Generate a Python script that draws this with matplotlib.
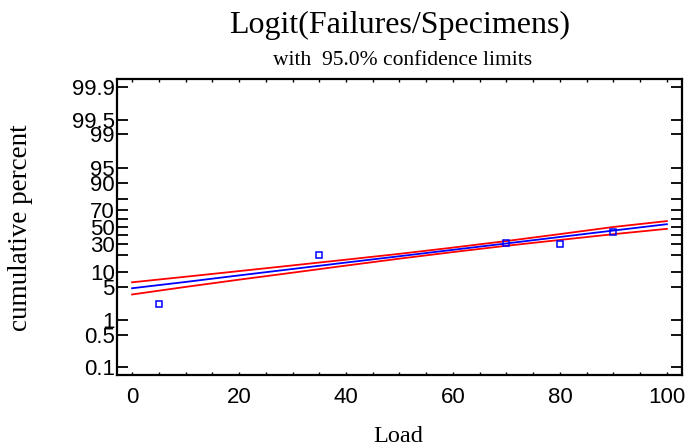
"""Logit probability plot of failures/specimens vs load"""

import matplotlib
matplotlib.use("Agg")
from matplotlib import pyplot as plt
from matplotlib.ticker import FixedLocator, FixedFormatter, MultipleLocator, NullLocator

# fitted line and 95% limits (cumulative percent)
load_grid = [0, 10, 20, 30, 40, 50, 60, 70, 80, 90, 100]
fit_pct = [4.7, 6.3, 8.5, 11.3, 14.9, 19.3, 24.7, 31.0, 38.2, 45.9, 53.7]
upper_pct = [6.2, 8.0, 10.3, 13.2, 16.8, 21.2, 26.8, 33.6, 41.6, 50.3, 57.5]
lower_pct = [3.5, 5.0, 7.0, 9.6, 13.1, 17.5, 22.7, 28.6, 34.8, 41.5, 48.0]

# observed points
obs_load = [5, 35, 70, 80, 90]
obs_pct = [2.2, 20.0, 31.5, 30.5, 44.0]

ytick_pct = [0.1, 0.5, 1, 5, 10, 20, 30, 40, 50, 60, 70, 80, 90, 95, 99, 99.5, 99.9]
ytick_labels = ["0.1", "0.5", "1", "5", "10", "", "30", "", "50", "", "70", "", "90", "95", "99", "99.5", "99.9"]

serif = "Liberation Serif"
sans = "Liberation Sans"

fig = plt.figure(figsize=(6.87, 4.48), dpi=100)
ax = fig.add_axes([0.170, 0.163, 0.823, 0.661])

frac = lambda vals: [v / 100.0 for v in vals]

ax.plot(load_grid, frac(upper_pct), color="#ff0000", linewidth=1.3, zorder=2)
ax.plot(load_grid, frac(lower_pct), color="#ff0000", linewidth=1.3, zorder=2)
ax.plot(load_grid, frac(fit_pct), color="#0000ff", linewidth=1.3, zorder=3)
ax.plot(obs_load, frac(obs_pct), linestyle="none", marker="s", markersize=5,
        markerfacecolor="none", markeredgecolor="#0000ff", markeredgewidth=1.1, zorder=4)

ax.set_yscale("logit")
ax.set_ylim(0.000684, 0.999336)
ax.set_xlim(-2.86, 102.86)

ax.yaxis.set_major_locator(FixedLocator(frac(ytick_pct)))
ax.yaxis.set_major_formatter(FixedFormatter(ytick_labels))
ax.yaxis.set_minor_locator(NullLocator())
ax.xaxis.set_major_locator(MultipleLocator(20))
ax.xaxis.set_minor_locator(MultipleLocator(5))

ax.tick_params(axis="y", which="major", direction="in", length=8, width=1.3,
               left=True, right=True, labelsize=16, pad=1.5)
ax.tick_params(axis="x", which="both", direction="in", length=2.5, width=1.0,
               top=True, bottom=True, labelsize=16, pad=9)
for lbl in ax.get_xticklabels() + ax.get_yticklabels():
    lbl.set_fontfamily(sans)

for sp in ax.spines.values():
    sp.set_linewidth(1.6)

fig.text(400 / 687, 1 - 33 / 448, "Logit(Failures/Specimens)", ha="center", va="baseline",
         fontsize=23, family=serif)
fig.text(403 / 687, 1 - 65 / 448, "with  95.0% confidence limits", ha="center", va="baseline",
         fontsize=15.5, family=serif)
fig.text(398 / 687, 1 - 442 / 448, "Load", ha="center", va="baseline", fontsize=17.5, family=serif)
fig.text(21 / 687, 1 - 228 / 448, "cumulative percent", ha="center", va="center", rotation=90,
         fontsize=19.5, family=serif)

fig.savefig("out.png", dpi=100)
plt.close(fig)
